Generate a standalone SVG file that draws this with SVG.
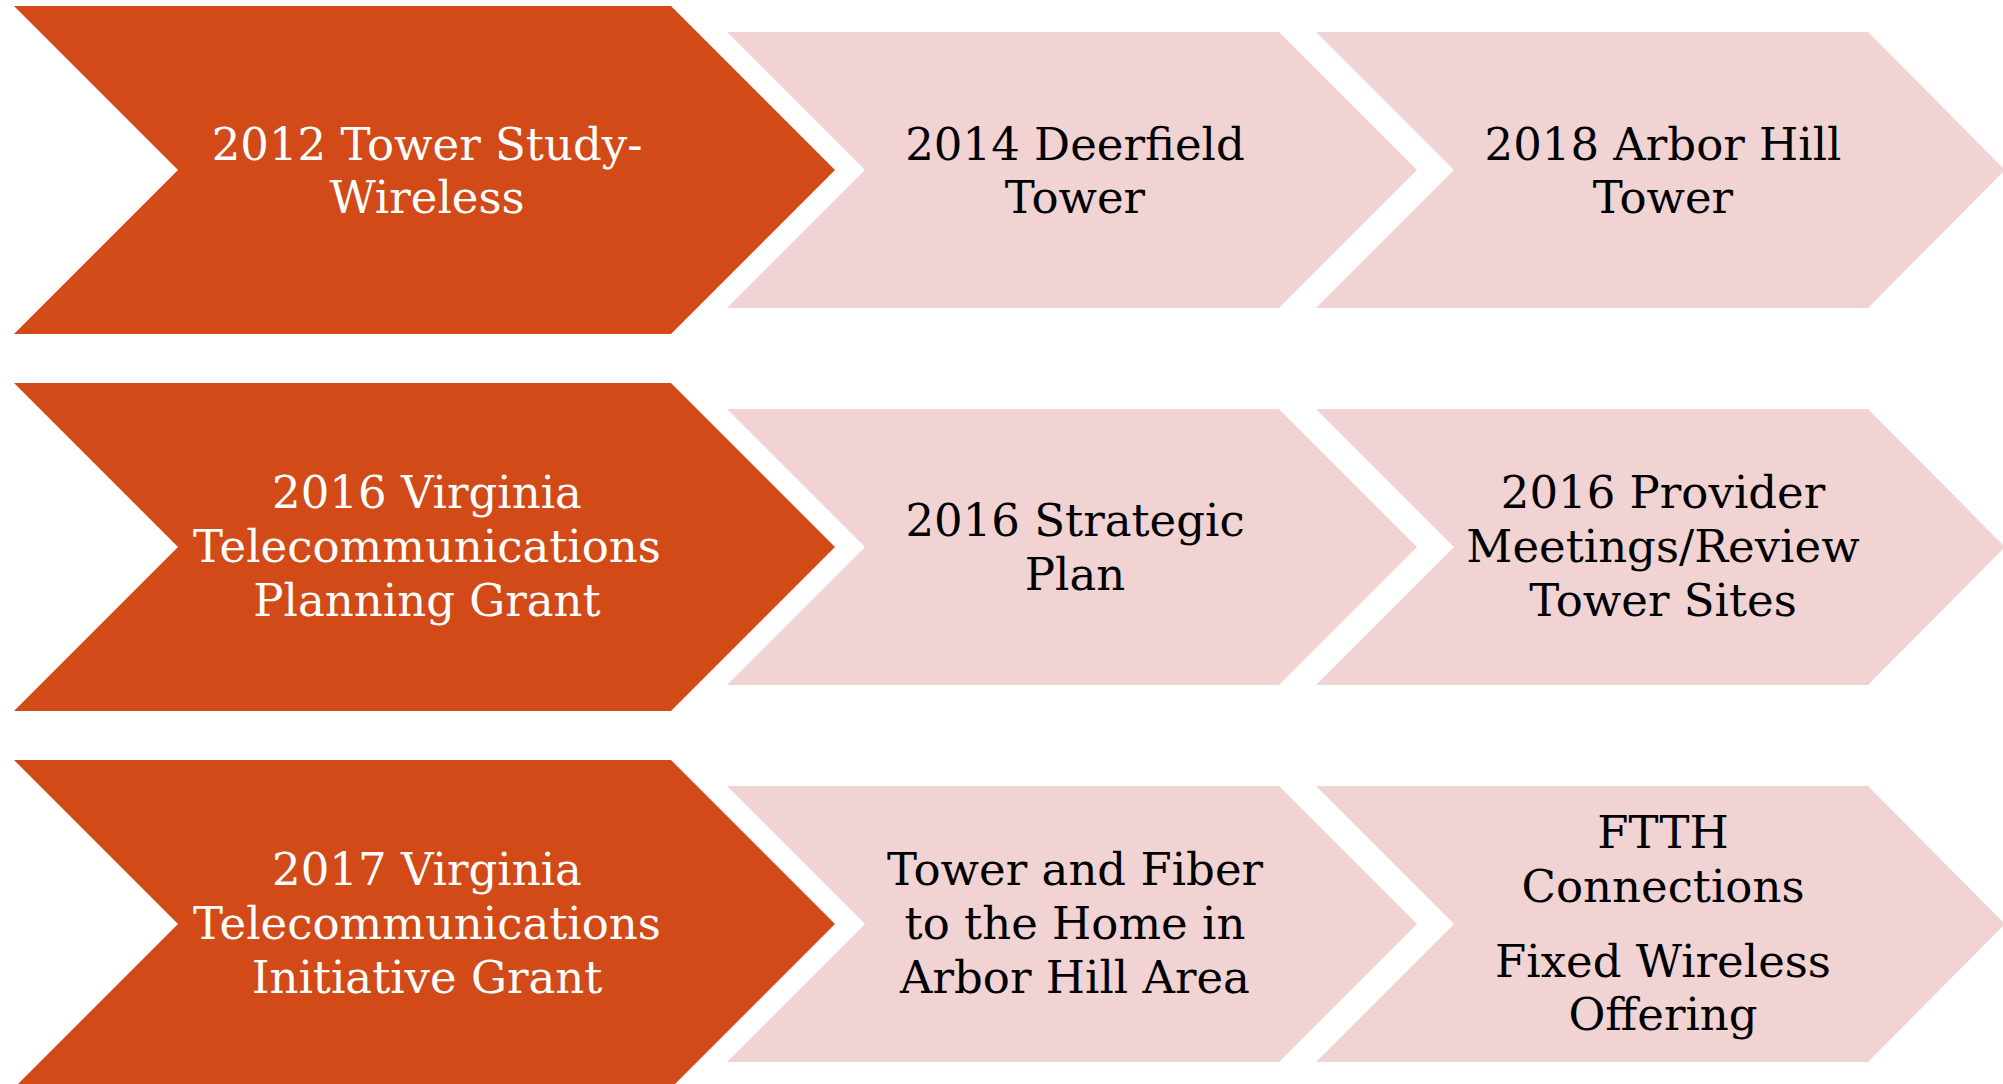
<svg xmlns="http://www.w3.org/2000/svg" width="2003" height="1084" viewBox="0 0 2003 1084">
<style>
.dark{fill:#D24A18}
.light{fill:#F0D3D2}
text{font-family:Rockwell,"DejaVu Serif","Liberation Serif",serif;font-size:45px;text-anchor:middle}
.wt{fill:#FFFFFF}
.bt{fill:#000000}
</style>
<rect width="2003" height="1084" fill="#FFFFFF"/>
<g id="connectors"/>
<g id="n-2012">
<polygon class="dark" points="14,6 671,6 835,170 671,334 14,334 178,170"/>
<text class="wt"><tspan x="427" y="160">2012 Tower Study-</tspan><tspan x="427" y="213">Wireless</tspan></text>
</g>
<g id="n-2014">
<polygon class="light" points="727,32 1279,32 1417,170 1279,308 727,308 865,170"/>
<text class="bt"><tspan x="1075" y="160">2014 Deerfield</tspan><tspan x="1075" y="213">Tower</tspan></text>
</g>
<g id="n-2018">
<polygon class="light" points="1316,32 1868,32 2005,170 1868,308 1316,308 1454,170"/>
<text class="bt"><tspan x="1663" y="160">2018 Arbor Hill</tspan><tspan x="1663" y="213">Tower</tspan></text>
</g>
<g id="n-2016-grant">
<polygon class="dark" points="14,383 671,383 835,547 671,711 14,711 178,547"/>
<text class="wt"><tspan x="427" y="508">2016 Virginia</tspan><tspan x="427" y="562">Telecommunications</tspan><tspan x="427" y="616">Planning Grant</tspan></text>
</g>
<g id="n-2016-plan">
<polygon class="light" points="727,409 1279,409 1417,547 1279,685 727,685 865,547"/>
<text class="bt"><tspan x="1075" y="536">2016 Strategic</tspan><tspan x="1075" y="590">Plan</tspan></text>
</g>
<g id="n-2016-provider">
<polygon class="light" points="1316,409 1868,409 2005,547 1868,685 1316,685 1454,547"/>
<text class="bt"><tspan x="1663" y="508">2016 Provider</tspan><tspan x="1663" y="562">Meetings/Review</tspan><tspan x="1663" y="616">Tower Sites</tspan></text>
</g>
<g id="n-2017-grant">
<polygon class="dark" points="14,760 671,760 835,924 671,1088 14,1088 178,924"/>
<text class="wt"><tspan x="427" y="885">2017 Virginia</tspan><tspan x="427" y="939">Telecommunications</tspan><tspan x="427" y="993">Initiative Grant</tspan></text>
</g>
<g id="n-fiber">
<polygon class="light" points="727,786 1279,786 1417,924 1279,1062 727,1062 865,924"/>
<text class="bt"><tspan x="1075" y="885">Tower and Fiber</tspan><tspan x="1075" y="939">to the Home in</tspan><tspan x="1075" y="993">Arbor Hill Area</tspan></text>
</g>
<g id="n-ftth">
<polygon class="light" points="1316,786 1868,786 2005,924 1868,1062 1316,1062 1454,924"/>
<text class="bt"><tspan x="1663" y="848">FTTH</tspan><tspan x="1663" y="902">Connections</tspan><tspan x="1663" y="977">Fixed Wireless</tspan><tspan x="1663" y="1030">Offering</tspan></text>
</g>
</svg>
